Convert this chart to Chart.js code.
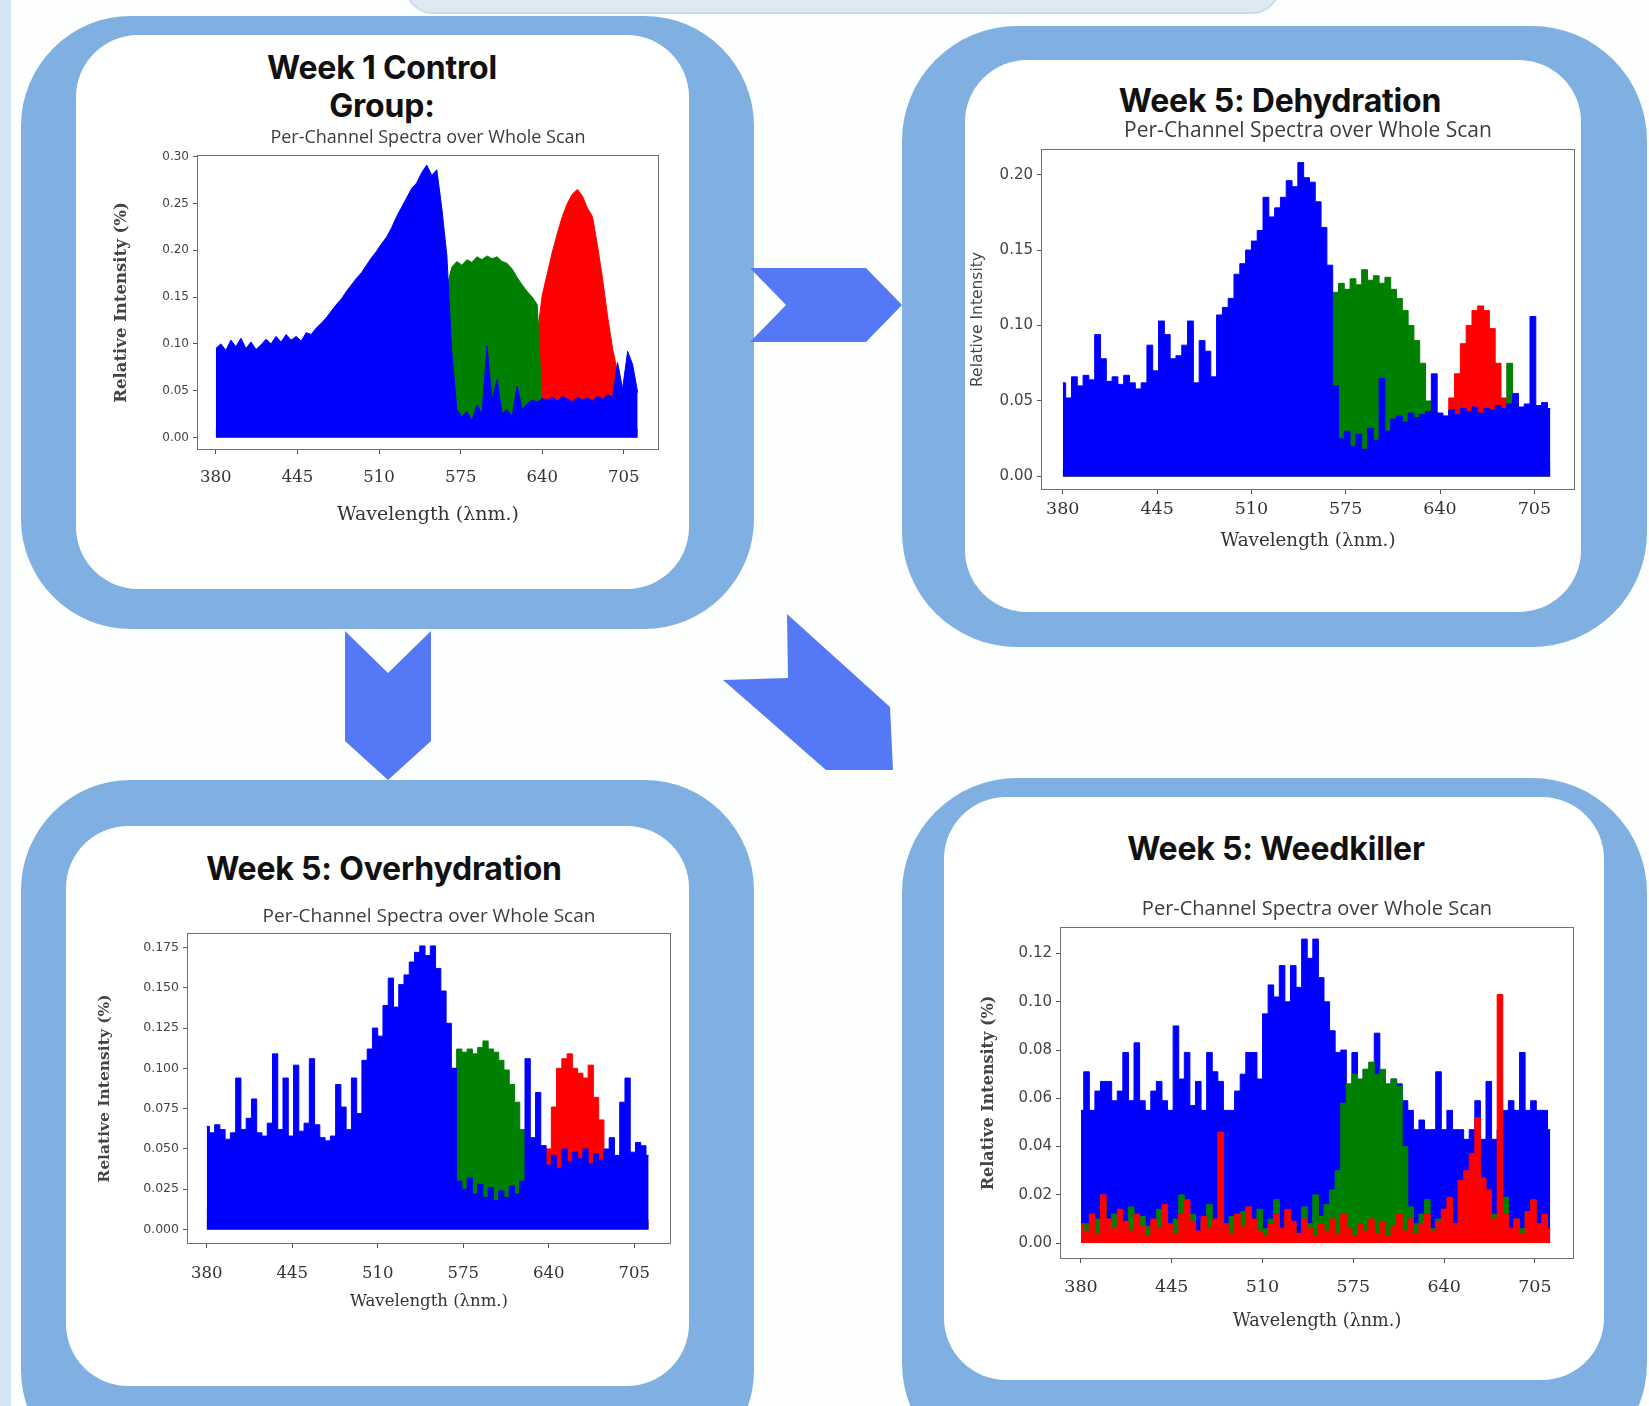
<!DOCTYPE html>
<html><head><meta charset="utf-8">
<script src="https://cdn.jsdelivr.net/npm/chart.js@4.4.1/dist/chart.umd.min.js"></script>
<style>
html,body{margin:0;padding:0;}
body{width:1649px;height:1406px;position:relative;overflow:hidden;background:#fdfefe;}
.box{position:absolute;}
.outer{background:#80b0e2;}
.inner{background:#ffffff;}
.ptitle{position:absolute;width:700px;text-align:center;font-family:Inter,'Open Sans',sans-serif;font-weight:700;font-size:32px;color:#111;line-height:40px;letter-spacing:-0.2px;white-space:nowrap;}
canvas{position:absolute;}
</style></head><body>
<div class="box" style="left:0;top:0;width:11px;height:1406px;background:#d3e5f3;"></div>
<div class="box" style="left:405px;top:-30px;width:871px;height:40px;border-radius:0 0 28px 28px;background:#dfe9f2;border:2px solid #c9dbea;"></div>

<div class="box outer" style="left:21px;top:16px;width:733px;height:613px;border-radius:110px;"></div>
<div class="box inner" style="left:76px;top:35px;width:613px;height:554px;border-radius:62px;"></div>
<div class="box outer" style="left:902px;top:26px;width:745px;height:621px;border-radius:115px;"></div>
<div class="box inner" style="left:965px;top:60px;width:616px;height:552px;border-radius:62px;"></div>
<div class="box outer" style="left:21px;top:780px;width:733px;height:700px;border-radius:110px;"></div>
<div class="box inner" style="left:66px;top:826px;width:623px;height:560px;border-radius:62px;"></div>
<div class="box outer" style="left:902px;top:778px;width:745px;height:700px;border-radius:115px;"></div>
<div class="box inner" style="left:944px;top:797px;width:660px;height:583px;border-radius:62px;"></div>

<svg class="box" style="left:0;top:0;" width="1649" height="1406">
  <polygon fill="#5578f6" points="750,268 866,268 902,305 866,342 750,342 786,305"/>
  <polygon fill="#5578f6" points="345,631 388,673 431,631 431,741 388,780 345,741"/>
  <polygon fill="#5578f6" points="787,614 890,707 893,770 826,770 723,680 788,678"/>
</svg>

<div class="ptitle" style="left:32px;top:48px;">Week 1 Control</div>
<div class="ptitle" style="left:32px;top:86px;">Group:</div>
<div class="ptitle" style="left:930px;top:81px;">Week 5: Dehydration</div>
<div class="ptitle" style="left:34px;top:849px;">Week 5: Overhydration</div>
<div class="ptitle" style="left:926px;top:829px;">Week 5: Weedkiller</div>

<canvas id="c1"></canvas>
<canvas id="c2"></canvas>
<canvas id="c3"></canvas>
<canvas id="c4"></canvas>

<script>
const wavelengths = [380,384,388,392,396,400,404,408,412,416,420,424,428,432,436,440,444,448,452,456,460,464,468,472,476,480,484,488,492,496,500,504,508,512,516,520,524,528,532,536,540,544,548,552,556,560,564,568,572,576,580,584,588,592,596,600,604,608,612,616,620,624,628,632,636,640,644,648,652,656,660,664,668,672,676,680,684,688,692,696,700,704,708,712,716];
const xTicks = [380,445,510,575,640,705];

// Week 1 Control Group
const ctrlBlue = [0.095,0.100,0.093,0.104,0.097,0.106,0.095,0.102,0.094,0.099,
 0.105,0.100,0.108,0.102,0.110,0.104,0.108,0.103,0.112,0.110,
 0.117,0.122,0.128,0.135,0.142,0.148,0.156,0.163,0.170,0.176,
 0.184,0.192,0.199,0.207,0.214,0.224,0.236,0.246,0.256,0.266,
 0.272,0.283,0.291,0.280,0.286,0.245,0.195,0.090,0.030,0.022,
 0.028,0.018,0.035,0.025,0.098,0.040,0.062,0.026,0.030,0.022,
 0.055,0.030,0.036,0.040,0.038,0.042,0.040,0.043,0.039,0.044,
 0.041,0.038,0.043,0.040,0.042,0.039,0.044,0.041,0.046,0.043,
 0.080,0.052,0.092,0.078,0.048];
const ctrlGreen = [0.006,0.010,0.004,0.008,0.012,0.005,0.009,0.007,0.011,0.004,
 0.008,0.013,0.006,0.009,0.005,0.010,0.007,0.012,0.004,0.008,
 0.011,0.006,0.009,0.005,0.013,0.007,0.010,0.004,0.008,0.012,
 0.006,0.009,0.005,0.011,0.007,0.010,0.006,0.012,0.008,0.015,
 0.010,0.013,
 0.020,0.035,0.060,0.110,0.160,0.182,0.188,0.184,0.190,0.187,0.193,0.190,0.194,0.191,0.193,0.188,0.186,0.180,0.171,0.163,0.156,0.150,0.142,
 0.030,0.015,0.012,0.018,0.010,0.014,0.009,0.016,0.011,0.013,0.008,0.015,0.012,0.017,0.010,0.014,0.009,0.013,0.011,0.008];
const ctrlRed = [0.008,0.004,0.011,0.006,0.013,0.005,0.009,0.003,0.010,0.007,
 0.012,0.005,0.008,0.004,0.011,0.006,0.014,0.009,0.005,0.010,
 0.007,0.003,0.012,0.006,0.009,0.004,0.013,0.008,0.005,0.010,
 0.006,0.011,0.004,0.009,0.007,0.012,0.005,0.008,0.003,0.010,
 0.006,0.009,0.004,0.007,0.005,0.008,0.010,0.006,0.012,0.004,
 0.009,0.007,0.011,0.005,0.013,0.008,0.006,0.010,0.004,0.012,
 0.007,0.015,
 0.020,0.045,0.110,0.152,0.175,0.198,0.218,0.236,0.250,0.260,0.265,0.258,0.245,0.236,0.205,0.170,0.130,0.095,0.070,0.048,0.030,0.015,0.008];

// Week 5: Dehydration
const dehyBlue = [0.062,0.052,0.066,0.060,0.067,0.064,0.094,0.078,0.063,0.066,
 0.061,0.067,0.062,0.058,0.062,0.087,0.070,0.103,0.094,0.078,
 0.080,0.087,0.103,0.062,0.090,0.083,0.066,0.107,0.112,0.118,
 0.134,0.141,0.150,0.156,0.163,0.185,0.172,0.178,0.185,0.196,
 0.192,0.208,0.198,0.195,0.182,0.165,0.140,0.060,0.025,0.030,
 0.020,0.028,0.018,0.032,0.024,0.065,0.030,0.038,0.040,0.036,
 0.042,0.039,0.041,0.043,0.068,0.042,0.040,0.044,0.041,0.045,
 0.043,0.046,0.042,0.045,0.044,0.047,0.045,0.048,0.055,0.046,
 0.048,0.106,0.047,0.049,0.045];
const dehyGreen = [0.004,0.012,0.020,0.008,0.003,0.010,0.006,0.014,0.005,0.009,
 0.003,0.011,0.007,0.004,0.013,0.006,0.009,0.004,0.010,0.005,
 0.012,0.007,0.003,0.009,0.006,0.015,0.004,0.008,0.011,0.005,
 0.009,0.004,0.012,0.007,0.006,0.010,0.004,0.013,0.008,0.005,
 0.011,0.016,0.009,0.018,
 0.030,0.060,0.100,0.122,0.128,0.124,0.131,0.127,0.137,0.130,0.133,0.128,0.132,0.124,0.118,0.110,0.100,0.090,0.075,0.050,0.018,
 0.012,0.008,0.015,0.006,0.010,0.004,0.012,0.007,0.009,0.005,0.011,0.006,0.075,0.008,0.004,0.010,0.006,0.012,0.005,0.009];
const dehyRed = [0.003,0.006,0.010,0.004,0.020,0.008,0.003,0.005,0.012,0.004,
 0.007,0.003,0.009,0.005,0.004,0.008,0.003,0.006,0.010,0.004,
 0.005,0.003,0.008,0.006,0.004,0.011,0.005,0.003,0.007,0.004,
 0.006,0.009,0.003,0.005,0.008,0.004,0.012,0.006,0.003,0.010,
 0.005,0.008,0.004,0.016,0.007,0.003,0.006,0.004,0.008,0.005,
 0.010,0.004,0.006,0.003,0.009,0.005,0.012,0.004,0.007,0.003,
 0.006,0.010,0.004,0.008,0.005,
 0.012,0.040,0.052,0.068,0.088,0.100,0.110,0.113,0.110,0.098,0.075,0.052,0.025,0.010,0.006,0.012,0.004,0.008,0.018,0.005];

// Week 5: Overhydration
const overBlue = [0.064,0.060,0.065,0.062,0.056,0.060,0.094,0.062,0.069,0.081,
 0.060,0.058,0.066,0.109,0.062,0.094,0.058,0.102,0.061,0.066,
 0.106,0.065,0.057,0.055,0.058,0.090,0.076,0.062,0.094,0.072,
 0.105,0.112,0.125,0.120,0.139,0.156,0.138,0.152,0.158,0.166,
 0.172,0.176,0.170,0.176,0.162,0.148,0.128,0.100,0.030,0.025,
 0.032,0.022,0.028,0.020,0.026,0.018,0.024,0.020,0.027,0.022,
 0.030,0.106,0.057,0.085,0.052,0.040,0.046,0.038,0.050,0.042,
 0.048,0.044,0.050,0.041,0.047,0.043,0.050,0.057,0.046,0.079,
 0.094,0.048,0.054,0.052,0.046];
const overGreen = [0.005,0.009,0.004,0.012,0.006,0.003,0.010,0.015,0.007,0.004,
 0.011,0.006,0.009,0.003,0.008,0.012,0.005,0.010,0.004,0.007,
 0.013,0.006,0.003,0.009,0.005,0.011,0.007,0.004,0.010,0.006,
 0.014,0.008,0.012,0.018,0.010,0.022,0.015,0.012,0.020,0.016,
 0.014,
 0.015,0.025,0.032,0.038,0.060,0.075,0.100,0.112,0.110,0.112,0.109,0.113,0.117,0.112,0.110,0.105,0.099,0.090,0.079,0.062,0.030,
 0.012,0.006,0.010,0.004,0.008,0.003,0.007,0.005,0.009,0.004,0.006,0.003,0.008,0.005,0.010,0.004,0.012,0.006,0.003,0.009,0.005,0.011,0.004];
const overRed = [0.012,0.025,0.028,0.010,0.018,0.006,0.012,0.004,0.010,0.015,
 0.005,0.008,0.013,0.006,0.004,0.011,0.007,0.012,0.005,0.009,
 0.004,0.010,0.006,0.012,0.005,0.008,0.004,0.010,0.013,0.007,
 0.015,0.012,0.018,0.010,0.014,0.016,0.008,0.012,0.006,0.010,
 0.005,0.012,0.020,0.026,0.015,0.008,0.012,0.005,0.009,0.004,
 0.011,0.006,0.010,0.014,0.007,0.012,0.005,0.009,0.015,0.008,
 0.012,0.020,0.030,0.026,0.052,0.050,0.076,0.100,0.106,0.109,
 0.100,0.097,0.094,0.102,0.082,0.068,0.044,0.022,0.014,0.018,
 0.008,0.012,0.005,0.010,0.006];

// Week 5: Weedkiller
const weedBlue = [0.055,0.071,0.055,0.063,0.067,0.067,0.059,0.063,0.079,0.059,
 0.083,0.059,0.055,0.063,0.067,0.059,0.055,0.090,0.068,0.079,
 0.057,0.067,0.055,0.079,0.071,0.067,0.055,0.055,0.063,0.070,
 0.079,0.079,0.068,0.095,0.107,0.102,0.115,0.100,0.115,0.106,
 0.126,0.118,0.126,0.110,0.100,0.088,0.079,0.080,0.060,0.079,
 0.064,0.072,0.066,0.087,0.068,0.064,0.068,0.066,0.059,0.055,
 0.047,0.051,0.047,0.047,0.071,0.047,0.055,0.047,0.047,0.043,
 0.047,0.059,0.043,0.067,0.043,0.047,0.055,0.059,0.055,0.079,
 0.055,0.059,0.055,0.055,0.047];
const weedGreen = [0.004,0.008,0.003,0.010,0.018,0.006,0.012,0.004,0.009,0.015,
 0.005,0.011,0.007,0.003,0.014,0.008,0.004,0.010,0.020,0.006,
 0.012,0.004,0.009,0.016,0.005,0.008,0.003,0.011,0.006,0.013,
 0.004,0.009,0.014,0.006,0.010,0.018,0.005,0.012,0.007,0.004,
 0.015,0.008,0.020,0.011,0.016,0.022,
 0.030,0.058,0.066,0.070,0.068,0.072,0.075,0.070,0.072,0.066,0.068,0.065,0.040,0.015,
 0.008,0.012,0.018,0.006,0.010,0.004,0.014,0.008,0.005,0.011,0.016,0.006,0.009,0.004,0.012,0.007,0.019,0.005,0.010,0.006,0.013,0.008,0.004,0.011,0.006];
const weedRed = [0.008,0.005,0.012,0.004,0.020,0.010,0.006,0.014,0.009,0.005,
 0.012,0.007,0.003,0.010,0.006,0.016,0.008,0.004,0.012,0.018,
 0.009,0.005,0.011,0.006,0.010,0.046,0.008,0.004,0.012,0.007,
 0.015,0.010,0.005,0.003,0.008,0.012,0.006,0.014,0.009,0.004,
 0.010,0.006,0.003,0.008,0.005,0.010,0.004,0.012,0.006,0.003,
 0.008,0.005,0.010,0.004,0.009,0.003,0.007,0.012,0.005,0.010,
 0.004,0.008,0.012,0.005,0.009,0.014,0.019,0.008,0.026,0.030,
 0.037,0.052,0.027,0.022,0.010,0.103,0.012,0.006,0.010,0.004,
 0.013,0.018,0.008,0.012,0.006];

const ctrlYTicks = [0, 0.05, 0.10, 0.15, 0.20, 0.25, 0.30];
const dehyYTicks = [0, 0.05, 0.10, 0.15, 0.20];
const overYTicks = [0, 0.025, 0.05, 0.075, 0.10, 0.125, 0.15, 0.175];
const weedYTicks = [0, 0.02, 0.04, 0.06, 0.08, 0.10, 0.12];

const subtitle = 'Per-Channel Spectra over Whole Scan';
const xTitle = 'Wavelength (\u03bbnm.)';

const allSeries = {ctrlBlue, ctrlGreen, ctrlRed, dehyBlue, dehyGreen, dehyRed, overBlue, overGreen, overRed, weedBlue, weedGreen, weedRed};
for (const k in allSeries) { if (allSeries[k].length !== wavelengths.length) throw new Error(k + ' has ' + allSeries[k].length); }

const BLUE = '#0000ff', GREEN = '#008000', RED = '#ff0000';

function pts(arr) { return wavelengths.map((x, i) => ({x: x, y: arr[i]})); }

const framePlugin = {
  id: 'frame',
  afterDatasetsDraw(chart) {
    const a = chart.chartArea, g = chart.ctx;
    g.save();
    g.strokeStyle = '#707070'; g.lineWidth = 1;
    g.strokeRect(Math.round(a.left) + 0.5, Math.round(a.top) + 0.5, Math.round(a.right - a.left) - 1, Math.round(a.bottom - a.top) - 1);
    g.restore();
  }
};

function build(spec) {
  const cv = document.getElementById(spec.id);
  cv.width = spec.W; cv.height = spec.H;
  cv.style.left = spec.L + 'px'; cv.style.top = spec.T + 'px';
  cv.style.width = spec.W + 'px'; cv.style.height = spec.H + 'px';
  const s = spec.spine;
  const tlh = spec.titleSize * 1.2;
  const padTop = spec.titleCY - tlh / 2 - spec.T;
  const titlePadBottom = s.t - (spec.titleCY + tlh / 2);
  const xTickPad = spec.xTickCY - s.b - 4 - 0.6 * spec.xTickSize;
  const xTitlePad = spec.T + spec.H - spec.xTitleCY - 0.6 * spec.xTitleSize;
  const yTitlePad = spec.yTitleCX - spec.L - 0.6 * spec.yTitleSize;
  const datasets = spec.series.map(sr => ({
    label: sr.label, data: pts(sr.values), borderColor: sr.color, backgroundColor: sr.color,
    borderWidth: 1, pointRadius: 0, fill: 'origin', stepped: spec.stepped, tension: 0, order: sr.order
  }));
  const tickGrid = {display: true, drawOnChartArea: false, drawTicks: true, tickLength: 4, color: '#555'};
  new Chart(cv, {
    type: 'line',
    data: {datasets},
    options: {
      responsive: false, animation: false, devicePixelRatio: 1,
      layout: {padding: {left: 0, right: spec.L + spec.W - s.r, top: padTop, bottom: 0}},
      plugins: {
        legend: {display: false}, tooltip: {enabled: false},
        title: {display: true, fullSize: false, text: subtitle, color: '#3c3c3c',
          font: {family: 'Open Sans', size: spec.titleSize, weight: 'normal', lineHeight: 1.2},
          padding: {top: 0, bottom: titlePadBottom}}
      },
      scales: {
        x: {
          type: 'linear', min: 365, max: 733,
          afterBuildTicks: sc => { sc.ticks = xTicks.map(v => ({value: v})); },
          afterFit: sc => { sc.height = spec.T + spec.H - s.b; },
          grid: tickGrid, border: {display: false},
          ticks: {color: '#333', font: {family: 'DejaVu Serif', size: spec.xTickSize}, padding: xTickPad,
            maxRotation: 0, autoSkip: false, callback: v => String(v)},
          title: {display: true, text: xTitle, color: '#333',
            font: {family: 'DejaVu Serif', size: spec.xTitleSize}, padding: {top: 0, bottom: xTitlePad}}
        },
        y: {
          type: 'linear', min: spec.yMin, max: spec.yMax,
          afterBuildTicks: sc => { sc.ticks = spec.yTicks.map(v => ({value: v})); },
          afterFit: sc => { sc.width = s.l - spec.L; },
          grid: tickGrid, border: {display: false},
          ticks: {color: '#444', font: {family: 'DejaVu Sans', size: spec.yTickSize}, padding: 4,
            callback: v => Number(v).toFixed(spec.yDec)},
          title: {display: true, text: spec.yTitle, color: '#444',
            font: {family: spec.yTitleFont, size: spec.yTitleSize, weight: spec.yTitleWeight},
            padding: {top: yTitlePad, bottom: 0}}
        }
      }
    },
    plugins: [framePlugin]
  });
}

build({id: 'c1', L: 86, T: 118, W: 604, H: 428, spine: {l: 197, t: 155, r: 659, b: 450},
  yMin: -0.0134, yMax: 0.3018, yTicks: ctrlYTicks, yDec: 2, stepped: false,
  titleCY: 138, titleSize: 18, xTickCY: 478, xTickSize: 16.5, xTitleCY: 515, xTitleSize: 19,
  yTitle: 'Relative Intensity (%)', yTitleCX: 122, yTitleSize: 16.5, yTitleFont: 'DejaVu Serif', yTitleWeight: 'bold', yTickSize: 12,
  series: [{label: 'Blue', values: ctrlBlue, color: BLUE, order: 0}, {label: 'Green', values: ctrlGreen, color: GREEN, order: 1}, {label: 'Red', values: ctrlRed, color: RED, order: 2}]});

build({id: 'c2', L: 966, T: 110, W: 614, H: 450, spine: {l: 1041, t: 149, r: 1575, b: 490},
  yMin: -0.009, yMax: 0.217, yTicks: dehyYTicks, yDec: 2, stepped: 'middle',
  titleCY: 131, titleSize: 21, xTickCY: 509, xTickSize: 17.5, xTitleCY: 541, xTitleSize: 18.3,
  yTitle: 'Relative Intensity', yTitleCX: 978, yTitleSize: 15.5, yTitleFont: 'DejaVu Sans', yTitleWeight: 'normal', yTickSize: 15,
  series: [{label: 'Blue', values: dehyBlue, color: BLUE, order: 0}, {label: 'Green', values: dehyGreen, color: GREEN, order: 1}, {label: 'Red', values: dehyRed, color: RED, order: 2}]});

build({id: 'c3', L: 70, T: 890, W: 615, H: 440, spine: {l: 187, t: 933, r: 671, b: 1244},
  yMin: -0.009, yMax: 0.184, yTicks: overYTicks, yDec: 3, stepped: 'middle',
  titleCY: 917, titleSize: 19, xTickCY: 1274, xTickSize: 16.5, xTitleCY: 1302, xTitleSize: 16.5,
  yTitle: 'Relative Intensity (%)', yTitleCX: 105, yTitleSize: 15.5, yTitleFont: 'DejaVu Serif', yTitleWeight: 'bold', yTickSize: 12.5,
  series: [{label: 'Blue', values: overBlue, color: BLUE, order: 0}, {label: 'Green', values: overGreen, color: GREEN, order: 1}, {label: 'Red', values: overRed, color: RED, order: 2}]});

build({id: 'c4', L: 948, T: 880, W: 652, H: 470, spine: {l: 1060, t: 927, r: 1574, b: 1259},
  yMin: -0.0066, yMax: 0.131, yTicks: weedYTicks, yDec: 2, stepped: 'middle',
  titleCY: 909, titleSize: 20, xTickCY: 1287, xTickSize: 17.5, xTitleCY: 1321, xTitleSize: 17.6,
  yTitle: 'Relative Intensity (%)', yTitleCX: 989, yTitleSize: 16, yTitleFont: 'DejaVu Serif', yTitleWeight: 'bold', yTickSize: 15,
  series: [{label: 'Red', values: weedRed, color: RED, order: 0}, {label: 'Green', values: weedGreen, color: GREEN, order: 1}, {label: 'Blue', values: weedBlue, color: BLUE, order: 2}]});
</script>
</body></html>
